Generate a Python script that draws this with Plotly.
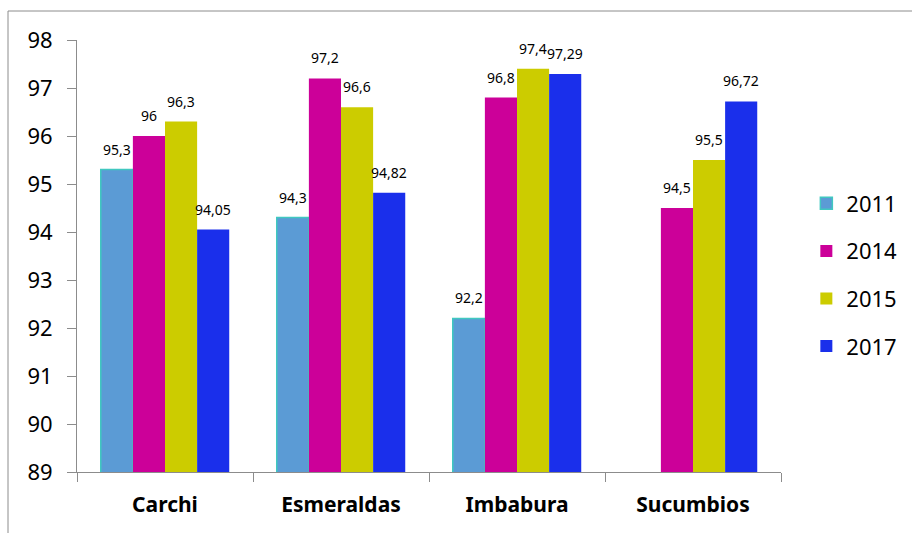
import plotly.graph_objects as go

categories = ["Carchi", "Esmeraldas", "Imbabura", "Sucumbios"]
years = ["2011", "2014", "2015", "2017"]
v2011 = [95.3, 94.3, 92.2, None]
v2014 = [96.0, 97.2, 96.8, 94.5]
v2015 = [96.3, 96.6, 97.4, 95.5]
v2017 = [94.05, 94.82, 97.29, 96.72]
labels2011 = ["95,3", "94,3", "92,2", ""]
labels2014 = ["96", "97,2", "96,8", "94,5"]
labels2015 = ["96,3", "96,6", "97,4", "95,5"]
labels2017 = ["94,05", "94,82", "97,29", "96,72"]

series = [v2011, v2014, v2015, v2017]
series_labels = [labels2011, labels2014, labels2015, labels2017]
fills = ["#5B9BD5", "#CC0099", "#CCCC00", "#1A2FEB"]
outlines = ["#40C8C0", "#CC0099", "#CCCC00", "#1A2FEB"]

FONT = "Noto Sans"
bargap = 0.27
barw = (1 - bargap) / len(years)

fig = go.Figure()
for i, (yr, vals) in enumerate(zip(years, series)):
    fig.add_trace(go.Bar(
        name=yr, x=categories, y=vals,
        marker=dict(color=fills[i], line=dict(color=outlines[i], width=1.5 if i == 0 else 0)),
        legendgroup=yr,
    ))

annotations = []
for i, (vals, labs) in enumerate(zip(series, series_labels)):
    for j, (v, t) in enumerate(zip(vals, labs)):
        if v is None:
            continue
        annotations.append(dict(
            x=j + (i - 1.5) * barw, y=v, xref="x", yref="y",
            text=t, showarrow=False, yanchor="bottom", yshift=9,
            font=dict(family=FONT, size=14, color="#000"),
        ))

fig.update_layout(
    width=912, height=533,
    margin=dict(l=77, r=131, t=40, b=61, autoexpand=False),
    paper_bgcolor="white", plot_bgcolor="white",
    barmode="group", bargap=bargap, bargroupgap=0,
    font=dict(family=FONT, color="#000"),
    annotations=annotations,
    showlegend=True,
    legend=dict(
        x=1.036, y=(472 - 275) / 432, xanchor="left", yanchor="middle",
        font=dict(family=FONT, size=22, color="#000"),
        tracegroupgap=16, itemwidth=30,
    ),
    shapes=[dict(
        type="rect", xref="paper", yref="paper",
        x0=(8 - 77) / 704, x1=1.5, y0=-0.5, y1=(472 - 11) / 432,
        line=dict(color="#8c8c8c", width=1), layer="below",
    )],
)
fig.update_yaxes(
    range=[89, 98], dtick=1, showgrid=False, zeroline=False, automargin=False,
    showline=True, linecolor="#8c8c8c", linewidth=1,
    ticks="outside", ticklen=9, tickcolor="#8c8c8c",
    tickfont=dict(family=FONT, size=22, color="#000"),
    ticklabelstandoff=10,
)
fig.update_xaxes(
    showgrid=False, showline=True, linecolor="#8c8c8c", linewidth=1, automargin=False,
    ticks="outside", ticklen=9, tickcolor="#8c8c8c", tickson="boundaries",
    tickfont=dict(family=FONT, size=21, color="#000", weight="bold"),
    ticklabelstandoff=14,
)

fig.write_html(
    "out.html",
    config={"displayModeBar": False},
    post_script="document.body.style.margin='0';document.body.style.overflow='hidden';",
)
